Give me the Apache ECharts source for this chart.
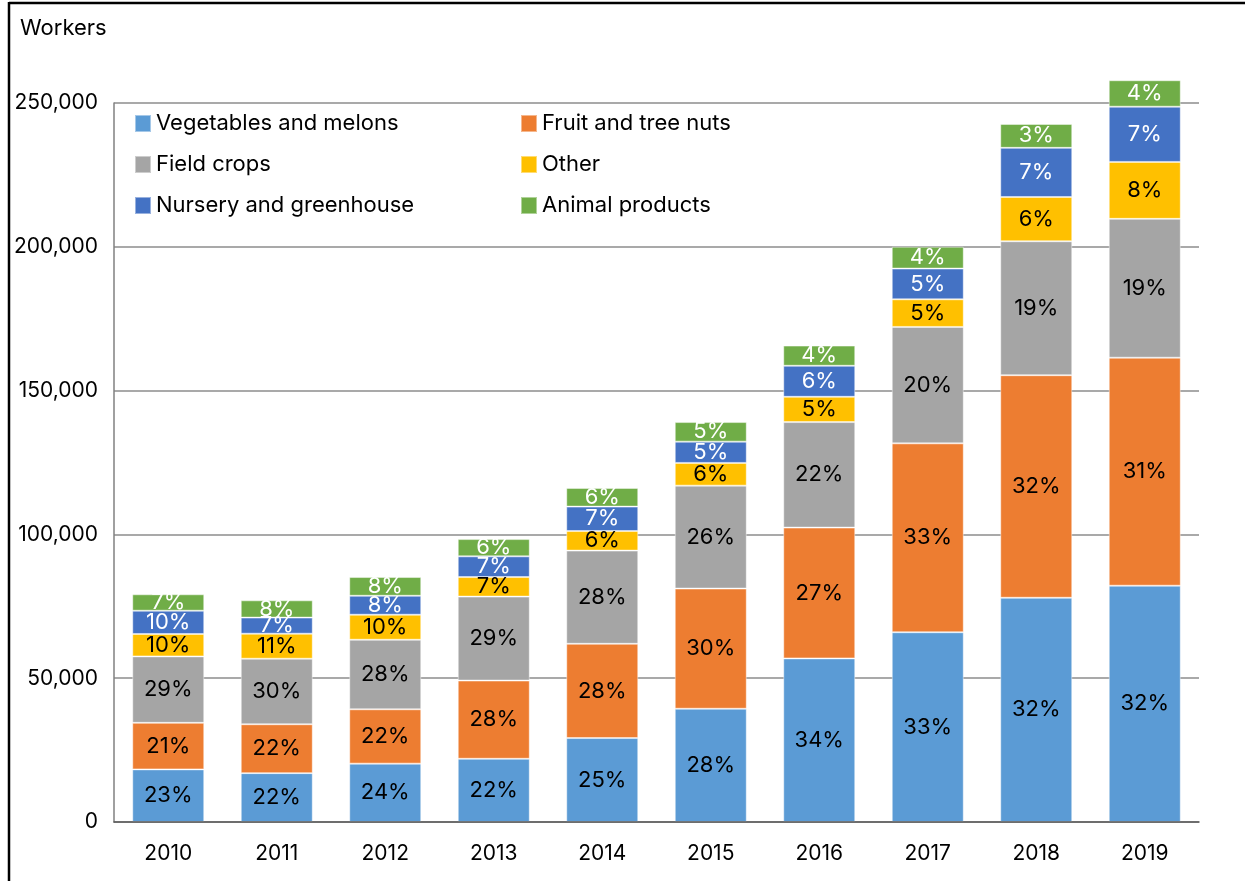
<!DOCTYPE html>
<html>
<head>
<meta charset="utf-8">
<script src="https://cdn.jsdelivr.net/npm/echarts@6/dist/echarts.min.js"></script>
<style>
html,body{margin:0;padding:0;background:#fff;}
#chart{width:1245px;height:881px;}
</style>
</head>
<body>
<div id="chart"></div>
<script>
const years = ['2010','2011','2012','2013','2014','2015','2016','2017','2018','2019'];
const seriesNames = ['Vegetables and melons','Fruit and tree nuts','Field crops','Other','Nursery and greenhouse','Animal products'];
const vegetables = [18300,17000,20300,22000,29200,39400,56900,66000,78000,82200];
const fruit      = [16200,17000,18900,27200,32800,41800,45500,65700,77400,79300];
const field      = [23100,22800,24200,29200,32400,35800,36700,40500,46600,48300];
const other      = [7800,8700,8700,6800,6800,7900,8800,9600,15400,19800];
const nursery    = [8100,5600,6600,7200,8500,7400,10800,10700,17100,19200];
const animal     = [5700,6000,6500,6000,6500,6800,7000,7600,8300,9200];
const vegLabels     = ['23%','22%','24%','22%','25%','28%','34%','33%','32%','32%'];
const fruitLabels   = ['21%','22%','22%','28%','28%','30%','27%','33%','32%','31%'];
const fieldLabels   = ['29%','30%','28%','29%','28%','26%','22%','20%','19%','19%'];
const otherLabels   = ['10%','11%','10%','7%','6%','6%','5%','5%','6%','8%'];
const nurseryLabels = ['10%','7%','8%','7%','7%','5%','6%','5%','7%','7%'];
const animalLabels  = ['7%','8%','8%','6%','6%','5%','4%','4%','3%','4%'];
const yTickStep = 50000;
const yLabelMax = 250000;
const yDataMax = 260000;

const colors = ['#5B9BD5','#ED7D31','#A5A5A5','#FFC000','#4472C4','#70AD47'];
const labelColors = ['#000','#000','#000','#000','#fff','#fff'];
const values = [vegetables, fruit, field, other, nursery, animal];
const labels = [vegLabels, fruitLabels, fieldLabels, otherLabels, nurseryLabels, animalLabels];
const FONT = 'Inter, "Noto Sans", sans-serif';

const chart = echarts.init(document.getElementById('chart'), null, {renderer:'canvas'});

const series = seriesNames.map((name, i) => ({
  name: name,
  type: 'bar',
  stack: 'total',
  xAxisIndex: 0,
  yAxisIndex: 0,
  barWidth: 72,
  itemStyle: { color: colors[i], borderColor: 'rgba(255,255,255,0.45)', borderWidth: 1 },
  label: {
    show: true,
    position: 'inside',
    color: labelColors[i],
    fontFamily: FONT,
    fontSize: 22,
    formatter: p => labels[i][p.dataIndex]
  },
  emphasis: { disabled: true },
  data: values[i]
}));

chart.setOption({
  animation: false,
  color: colors,
  textStyle: { fontFamily: FONT },
  title: {
    text: 'Workers', left: 20, top: 17, padding: 0,
    textStyle: { fontFamily: FONT, fontSize: 22, fontWeight: 'normal', color: '#000' }
  },
  graphic: [
    { type: 'line', shape: { x1: 9, y1: 3, x2: 1245, y2: 3 }, style: { stroke: '#000', lineWidth: 2.5 }, z: 100 },
    { type: 'line', shape: { x1: 9, y1: 2, x2: 9, y2: 881 }, style: { stroke: '#000', lineWidth: 2.5 }, z: 100 }
  ],
  legend: [
    {
      orient: 'vertical', left: 134, top: 112, padding: 0,
      itemWidth: 16, itemHeight: 17, itemGap: 18, icon: 'rect',
      data: [seriesNames[0], seriesNames[2], seriesNames[4]],
      textStyle: { fontFamily: FONT, fontSize: 22, color: '#000', lineHeight: 23 }
    },
    {
      orient: 'vertical', left: 520, top: 112, padding: 0,
      itemWidth: 16, itemHeight: 17, itemGap: 18, icon: 'rect',
      data: [seriesNames[1], seriesNames[3], seriesNames[5]],
      textStyle: { fontFamily: FONT, fontSize: 22, color: '#000', lineHeight: 23 }
    }
  ],
  grid: [
    { left: 114, right: 46, top: 74.5, bottom: 59, containLabel: false },
    { left: 114, right: 46, top: 103, bottom: 59, containLabel: false }
  ],
  xAxis: [
    {
      type: 'category', gridIndex: 0, data: years,
      axisLine: { show: true, lineStyle: { color: '#595959', width: 1.5 } },
      axisTick: { show: false },
      axisLabel: { color: '#000', fontFamily: FONT, fontSize: 21, margin: 21 },
      z: 10
    },
    { type: 'category', gridIndex: 1, data: years, show: false }
  ],
  yAxis: [
    {
      type: 'value', gridIndex: 0, min: 0, max: yDataMax, interval: yTickStep,
      show: false, splitLine: { show: false }
    },
    {
      type: 'value', gridIndex: 1, min: 0, max: yLabelMax, interval: yTickStep,
      axisLine: { show: true, lineStyle: { color: '#808080', width: 1.5 } },
      axisTick: { show: false },
      splitLine: { show: true, lineStyle: { color: '#8c8c8c', width: 1.5 } },
      axisLabel: {
        color: '#000', fontFamily: FONT, fontSize: 21, margin: 16,
        formatter: v => v.toLocaleString('en-US')
      },
      z: 0
    }
  ],
  series: series
});
</script>
</body>
</html>
